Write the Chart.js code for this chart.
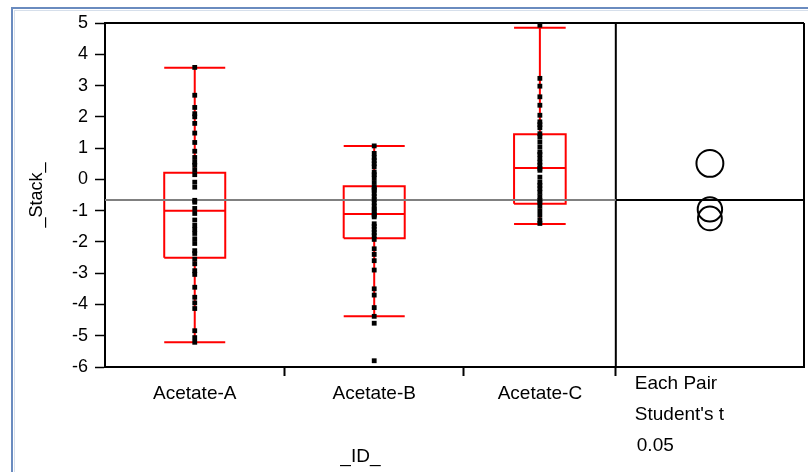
<!DOCTYPE html>
<html><head><meta charset="utf-8">
<script src="https://cdn.jsdelivr.net/npm/chart.js@4"></script>
<style>
html,body{margin:0;padding:0;background:#fff;}
#wrap{position:relative;width:808px;height:472px;overflow:hidden;background:#fff;}
#frame1{position:absolute;left:11px;top:7px;width:1000px;height:1000px;border-left:2px solid #6a8bbf;border-top:2px solid #6a8bbf;}
#frame2{position:absolute;left:14px;top:10px;width:1000px;height:1000px;border-left:1px solid #d6dfeb;border-top:1px solid #d6dfeb;}
canvas{position:absolute;left:0;top:0;}
</style></head><body>
<div id="wrap"><div id="frame1"></div><div id="frame2"></div><canvas id="c" width="808" height="472"></canvas></div>
<script>
// ---- data ----
const categories = ['Acetate-A', 'Acetate-B', 'Acetate-C'];
const groupN = [39, 39, 33];
const valuesA = [3.58, 2.69, 2.3, 2.1, 2.0, 1.79, 1.48, 1.18, 0.9, 0.7, 0.55, 0.45, 0.3, 0.15, -0.09, -0.25, -0.67, -0.73, -0.93, -1.09, -1.3, -1.47, -1.6, -1.73, -1.9, -2.05, -2.28, -2.37, -2.55, -2.7, -2.92, -3.04, -3.45, -3.77, -3.95, -4.13, -4.84, -5.06, -5.21];
const valuesB = [1.07, 0.83, 0.7, 0.6, 0.5, 0.4, 0.23, 0.15, 0.05, -0.1, -0.25, -0.35, -0.45, -0.55, -0.65, -0.75, -0.85, -0.95, -1.0, -1.11, -1.15, -1.2, -1.42, -1.5, -1.6, -1.7, -1.8, -1.92, -2.22, -2.4, -2.6, -2.9, -3.5, -3.7, -4.1, -4.38, -4.6, -5.8, -0.3];
const valuesC = [4.93, 3.23, 2.98, 2.64, 2.37, 2.05, 1.84, 1.75, 1.65, 1.46, 1.36, 1.2, 1.04, 0.88, 0.8, 0.67, 0.55, 0.45, 0.35, 0.29, 0.07, -0.09, -0.19, -0.3, -0.41, -0.55, -0.67, -0.73, -0.85, -1.0, -1.15, -1.31, -1.41];
const whiskerLo = [-5.21, -4.38, -1.43];
const quartile1 = [-2.51, -1.88, -0.78];
const medians   = [-1.00, -1.11, 0.36];
const quartile3 = [0.21, -0.22, 1.44];
const whiskerHi = [3.57, 1.07, 4.85];
const groupMeans = [-0.96, -1.25, 0.51];
const circleRadii = [0.39, 0.38, 0.43];
const grandMean = -0.66;
const yTicks = [5, 4, 3, 2, 1, 0, -1, -2, -3, -4, -5, -6];
const compareLabels = ['Each Pair', "Student's t", '0.05'];
const xTitle = '_ID_';
const yTitle = '_Stack_';

// ---- layout helpers ----
const BOX_FRACTION = 0.34;
const PANEL_RATIO = 189 / 513;
const FONT = '"Liberation Sans", Arial, sans-serif';
const groupValues = [valuesA, valuesB, valuesC];
const bounds = [0];
groupN.forEach(n => bounds.push(bounds[bounds.length - 1] + n));
const leftTotal = bounds[bounds.length - 1];
const totalUnits = leftTotal * (1 + PANEL_RATIO);
const centers = groupN.map((n, i) => bounds[i] + n / 2);
const panelCenter = (leftTotal + totalUnits) / 2;

const pointData = [];
groupValues.forEach((vals, i) => vals.forEach(v => pointData.push({x: centers[i], y: v})));

const boxData = [];
groupN.forEach((n, i) => {
  const c = centers[i], hw = n * BOX_FRACTION / 2, l = c - hw, r = c + hw;
  const gap = {x: c, y: null};
  boxData.push({x: l, y: quartile1[i]}, {x: r, y: quartile1[i]}, {x: r, y: quartile3[i]}, {x: l, y: quartile3[i]}, {x: l, y: quartile1[i]}, gap);
  boxData.push({x: l, y: medians[i]}, {x: r, y: medians[i]}, gap);
  boxData.push({x: c, y: quartile3[i]}, {x: c, y: whiskerHi[i]}, gap);
  boxData.push({x: l, y: whiskerHi[i]}, {x: r, y: whiskerHi[i]}, gap);
  boxData.push({x: c, y: quartile1[i]}, {x: c, y: whiskerLo[i]}, gap);
  boxData.push({x: l, y: whiskerLo[i]}, {x: r, y: whiskerLo[i]}, gap);
});

const circleData = groupMeans.map(m => ({x: panelCenter, y: m}));

const isBoundary = v => bounds.slice(1).some(b => Math.abs(b - v) < 1e-6);

const framePlugin = {
  id: 'framePlugin',
  beforeDatasetsDraw(chart) {
    const {ctx, chartArea: a, scales: {x}} = chart;
    ctx.save();
    ctx.strokeStyle = '#000';
    ctx.lineWidth = 2;
    ctx.beginPath();
    ctx.moveTo(a.left, a.top); ctx.lineTo(a.right, a.top);
    ctx.moveTo(a.right, a.top); ctx.lineTo(a.right, a.bottom);
    const dx = x.getPixelForValue(leftTotal);
    ctx.moveTo(dx, a.top); ctx.lineTo(dx, a.bottom);
    ctx.stroke();
    ctx.restore();
  },
  afterDraw(chart) {
    const {ctx, chartArea: a, scales: {x}} = chart;
    ctx.save();
    ctx.fillStyle = '#000';
    ctx.font = '19px ' + FONT;
    ctx.textBaseline = 'middle';
    ctx.textAlign = 'left';
    const dx = x.getPixelForValue(leftTotal);
    compareLabels.forEach((t, i) => ctx.fillText(t, dx + 19 + (i === 2 ? 2 : 0), a.bottom + 17 + i * 31));
    ctx.textAlign = 'center';
    ctx.fillText(xTitle, (x.getPixelForValue(0) + dx) / 2, a.bottom + 90);
    ctx.restore();
  }
};

new Chart(document.getElementById('c'), {
  type: 'line',
  data: {
    datasets: [
      {type: 'scatter', data: pointData, pointStyle: 'rect', pointRadius: 3.4, backgroundColor: '#000', borderWidth: 0, order: 0},
      {type: 'scatter', data: circleData, pointStyle: 'circle', backgroundColor: 'rgba(0,0,0,0)', borderColor: '#000', borderWidth: 2, order: 0,
        pointRadius: (c) => {
          const y = c.chart.scales.y;
          const r = circleRadii[c.dataIndex] || 0.4;
          return Math.abs(y.getPixelForValue(0) - y.getPixelForValue(r));
        }},
      {data: [{x: 0, y: grandMean}, {x: leftTotal, y: grandMean}], borderColor: '#808080', borderWidth: 2, pointRadius: 0, order: 1},
      {data: [{x: leftTotal, y: grandMean}, {x: totalUnits, y: grandMean}], borderColor: '#000', borderWidth: 2, pointRadius: 0, order: 1},
      {data: boxData, borderColor: '#ff0000', borderWidth: 2, pointRadius: 0, spanGaps: false, borderJoinStyle: 'miter', order: 2}
    ]
  },
  options: {
    responsive: false,
    animation: false,
    events: [],
    layout: {padding: {left: 0, top: 23, right: 1, bottom: 0}},
    plugins: {legend: {display: false}, tooltip: {enabled: false}},
    scales: {
      x: {
        type: 'linear', min: 0, max: totalUnits,
        afterBuildTicks: s => { s.ticks = bounds.slice(1).concat(centers).map(v => ({value: v})); },
        afterFit: s => { s.height = 105; },
        ticks: {
          autoSkip: false, maxRotation: 0, minRotation: 0, color: '#000', padding: 6,
          font: {size: 19, family: FONT},
          callback: (v) => { const i = centers.findIndex(c => Math.abs(c - v) < 1e-6); return i >= 0 ? categories[i] : ''; }
        },
        grid: {drawOnChartArea: false, drawTicks: true, tickLength: 9, tickWidth: 2,
          tickColor: (c) => (c.tick && isBoundary(c.tick.value)) ? '#000' : 'rgba(0,0,0,0)'},
        border: {display: true, color: '#000', width: 2}
      },
      y: {
        type: 'linear', min: -6, max: 5,
        afterBuildTicks: s => { s.ticks = yTicks.map(v => ({value: v})); },
        afterFit: s => { s.width = 105; },
        ticks: {color: '#000', padding: 7, font: {size: 18, family: FONT}},
        grid: {drawOnChartArea: false, drawTicks: true, tickLength: 10, tickWidth: 1.5, tickColor: '#000'},
        border: {display: true, color: '#000', width: 2},
        title: {display: true, text: yTitle, color: '#000', font: {size: 18, family: FONT}, padding: {top: 26, bottom: 0}}
      }
    }
  },
  plugins: [framePlugin]
});
</script>
</body></html>
